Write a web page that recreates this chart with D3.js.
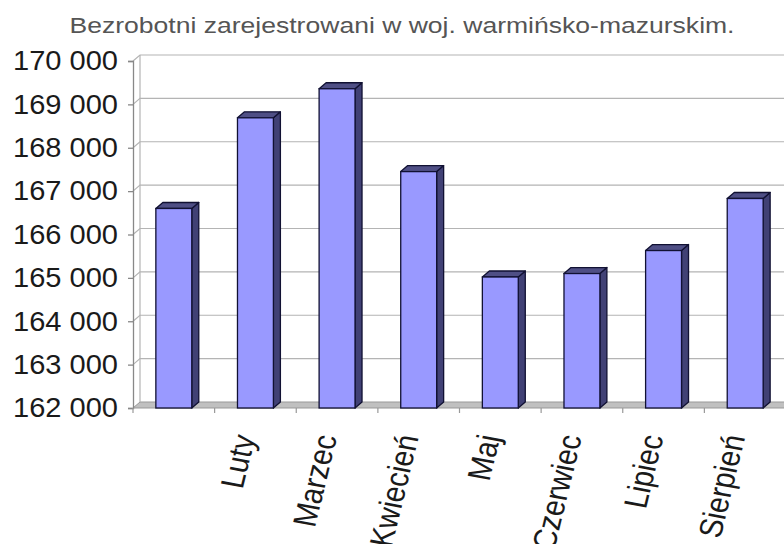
<!DOCTYPE html>
<html>
<head>
<meta charset="utf-8">
<script src="https://cdn.jsdelivr.net/npm/d3@7"></script>
<style>
  body { margin: 0; background: #fff; }
  text { font-family: "Liberation Sans", Arial, sans-serif; }
</style>
</head>
<body>
<script>
// Bezrobotni zarejestrowani - woj. warminsko-mazurskie
var months = ["", "Luty", "Marzec", "Kwiecień", "Maj", "Czerwiec", "Lipiec", "Sierpień"];
var values = [166600, 168690, 169360, 167450, 165020, 165100, 165630, 166830];
var yTicks = [162000, 163000, 164000, 165000, 166000, 167000, 168000, 169000, 170000];

var w = 784,
    h = 544;

var plotLeft = 133, plotBottom = 408, plotTop = 61;
var dx = 7, dy = 6; // 3d depth offset

var svg = d3.select("body").append("svg")
    .attr("width", w)
    .attr("height", h);

svg.append("rect")
    .attr("width", "100%")
    .attr("height", "100%")
    .attr("fill", "#fff");

var y = d3.scaleLinear()
    .domain([162000, 170000])
    .range([plotBottom, plotTop]);

var x = d3.scaleBand()
    .domain(months.map(function(d, i) { return i; }))
    .range([plotLeft, 786])
    .padding(0);

var barW = x.bandwidth() * 0.44;

var pl = d3.formatLocale({decimal: ",", thousands: " ", grouping: [3], currency: ["", " zł"]});
var fmt = pl.format(",d");

// title
svg.append("text")
    .attr("x", 402)
    .attr("y", 33)
    .attr("text-anchor", "middle")
    .attr("textLength", 665)
    .attr("lengthAdjust", "spacingAndGlyphs")
    .style("font-size", "21.5px")
    .style("fill", "#555")
    .text("Bezrobotni zarejestrowani w woj. warmińsko-mazurskim.");

// floor
svg.append("polygon")
    .attr("points", [[plotLeft, plotBottom], [plotLeft + dx, plotBottom - dy], [x.range()[1] + dx, plotBottom - dy], [x.range()[1], plotBottom]].join(" "))
    .attr("fill", "#c0c0c0")
    .attr("stroke", "#999")
    .attr("stroke-width", 1);

// back wall grid lines + side wall connectors
var grid = svg.append("g");
grid.selectAll("path")
    .data(yTicks.slice(1))
    .enter().append("path")
    .attr("d", function(d) {
        return "M" + plotLeft + "," + y(d) + "L" + (plotLeft + dx) + "," + (y(d) - dy) + "H" + w;
    })
    .attr("fill", "none")
    .attr("stroke", "#b4b4b4")
    .attr("stroke-width", 1.2);

// back wall left edge
svg.append("line")
    .attr("x1", plotLeft + dx).attr("y1", plotTop - dy)
    .attr("x2", plotLeft + dx).attr("y2", plotBottom - dy)
    .attr("stroke", "#b4b4b4")
    .attr("stroke-width", 1.2);

// y axis
var yAxis = d3.axisLeft(y)
    .tickValues(yTicks)
    .tickFormat(fmt)
    .tickSize(5)
    .tickPadding(10);

var ya = svg.append("g")
    .attr("transform", "translate(" + plotLeft + ",0)")
    .call(yAxis);
ya.select(".domain").attr("stroke", "#888").attr("stroke-width", 1.3);
ya.selectAll(".tick line").attr("stroke", "#888").attr("stroke-width", 1.3);
ya.attr("font-family", null).attr("font-size", null);
ya.selectAll(".tick text")
    .style("font-size", "27.5px")
    .style("fill", "#1a1a1a")
    .attr("textLength", 105)
    .attr("lengthAdjust", "spacingAndGlyphs");

// floor ticks
svg.append("g").selectAll("line")
    .data(months.map(function(d, i) { return i; }))
    .enter().append("line")
    .attr("x1", function(d) { return x(d); })
    .attr("x2", function(d) { return x(d); })
    .attr("y1", plotBottom)
    .attr("y2", plotBottom + 5)
    .attr("stroke", "#999")
    .attr("stroke-width", 1.2);

// bars
var bars = svg.append("g").selectAll("g")
    .data(values)
    .enter().append("g");

function bx(i) { return x(i) + (x.bandwidth() - barW) / 2; }

// side face
bars.append("polygon")
    .attr("points", function(d, i) {
        var x0 = bx(i) + barW, yt = y(d);
        return [[x0, yt], [x0 + dx, yt - dy], [x0 + dx, plotBottom - dy], [x0, plotBottom]].join(" ");
    })
    .attr("fill", "#414175")
    .attr("stroke", "#111133")
    .attr("stroke-width", 1.3)
    .attr("stroke-linejoin", "round");

// top face
bars.append("polygon")
    .attr("points", function(d, i) {
        var x0 = bx(i), yt = y(d);
        return [[x0, yt], [x0 + dx, yt - dy], [x0 + barW + dx, yt - dy], [x0 + barW, yt]].join(" ");
    })
    .attr("fill", "#4f4f85")
    .attr("stroke", "#111133")
    .attr("stroke-width", 1.3)
    .attr("stroke-linejoin", "round");

// front face
bars.append("rect")
    .attr("x", function(d, i) { return bx(i); })
    .attr("y", function(d) { return y(d); })
    .attr("width", barW)
    .attr("height", function(d) { return plotBottom - y(d); })
    .attr("fill", "#9999ff")
    .attr("stroke", "#111133")
    .attr("stroke-width", 1.3);

// month labels (slanted, slightly sheared like the original)
svg.append("g").selectAll("text")
    .data(months)
    .enter().append("text")
    .attr("transform", function(d, i) {
        return "translate(" + (x(i) + x.bandwidth() / 2) + "," + 437 + ") scale(1.15,1) rotate(-78)";
    })
    .attr("text-anchor", "end")
    .style("font-size", "28.5px")
    .style("fill", "#1a1a1a")
    .text(function(d) { return d; });
</script>
</body>
</html>
